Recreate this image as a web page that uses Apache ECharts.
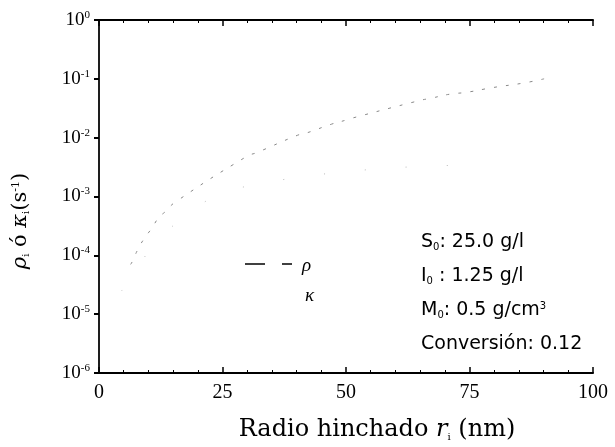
<!DOCTYPE html>
<html><head><meta charset="utf-8">
<script src="https://cdn.jsdelivr.net/npm/echarts@6/dist/echarts.min.js"></script>
<style>html,body{margin:0;padding:0;background:#fff}#c{width:615px;height:447px}</style>
</head><body><div id="c"></div>
<script>
const xTicks = [0, 25, 50, 75, 100];
const rhoX = [6.4, 6.9, 7.8, 9.1, 10.7, 12.1, 13.4, 15.5, 29.9, 32.0, 40.2, 42.0, 47.1, 50.1, 50.8, 65.0, 67.3, 71.1, 74.4, 79.7, 86.0, 90.1];
const rhoY = [7.0e-5, 8.3e-5, 1.23e-4, 1.9e-4, 2.9e-4, 4.4e-4, 5.5e-4, 8.1e-4, 4.8e-3, 5.6e-3, 1.1e-2, 1.2e-2, 1.7e-2, 2.0e-2, 2.1e-2, 4.3e-2, 4.7e-2, 5.5e-2, 5.9e-2, 7.1e-2, 8.5e-2, 1.0e-1];
const kappaX = [4.6, 28.4, 74.0];
const kappaY = [2.5e-5, 1.4e-3, 3.4e-3];
const notes = [
  ['S', '0', ': 25.0 g/l', ''],
  ['I', '0', ' : 1.25 g/l', ''],
  ['M', '0', ': 0.5 g/cm', '3'],
  ['Conversión: 0.12', '', '', '']
];

const serif = 'Liberation Serif';
const sans = 'DejaVu Sans';
const chart = echarts.init(document.getElementById('c'));

const supRich = {
  b: {fontFamily: serif, fontSize: 19, color: '#000'},
  s: {fontFamily: serif, fontSize: 11, color: '#000', verticalAlign: 'top', padding: [0, 0, 10, 0]}
};

const noteGraphics = notes.map((n, i) => ({
  type: 'text',
  left: 421,
  top: 233 + i * 34,
  style: {
    text: n[1] || n[3] ? '{m|' + n[0] + '}{sub|' + n[1] + '}{m|' + n[2] + '}{sup|' + n[3] + '}' : '{m|' + n[0] + '}',
    rich: {
      m: {fontFamily: sans, fontSize: 19, fill: '#000'},
      sub: {fontFamily: sans, fontSize: 10, fill: '#000', verticalAlign: 'bottom', padding: [8, 0, 0, 0]},
      sup: {fontFamily: sans, fontSize: 10, fill: '#000', verticalAlign: 'top', padding: [0, 0, 9, 0]}
    }
  }
}));

chart.setOption({
  animation: false,
  grid: {left: 99, right: 22, top: 20, bottom: 74, show: false},
  xAxis: [{
    type: 'value', min: 0, max: 100, interval: 25,
    axisLine: {lineStyle: {color: '#000', width: 2}},
    axisTick: {inside: true, length: 6, lineStyle: {color: '#000', width: 1.5}},
    minorTick: {show: true, splitNumber: 5, length: 3, lineStyle: {color: '#000'}},
    splitLine: {show: false},
    axisLabel: {fontFamily: serif, fontSize: 20, color: '#000', margin: 10,
      formatter: v => xTicks.includes(v) ? String(v) : ''}
  }, {
    type: 'value', min: 0, max: 100, interval: 25, position: 'top',
    axisLine: {lineStyle: {color: '#000', width: 2}},
    axisTick: {inside: true, length: 6, lineStyle: {color: '#000', width: 1.5}},
    minorTick: {show: true, splitNumber: 5, length: 3, lineStyle: {color: '#000'}},
    splitLine: {show: false}, axisLabel: {show: false}
  }],
  yAxis: [{
    type: 'log', logBase: 10, min: 1e-6, max: 1,
    axisLine: {lineStyle: {color: '#777', width: 2}},
    axisTick: {inside: false, length: 4, lineStyle: {color: '#000', width: 2}},
    splitLine: {show: false},
    axisLabel: {margin: 9, rich: supRich,
      formatter: v => '{b|10}{s|' + Math.round(Math.log10(v)) + '}'}
  }, {
    type: 'log', logBase: 10, min: 1e-6, max: 1, position: 'right',
    axisLine: {lineStyle: {color: '#000', width: 1.5}},
    axisTick: {inside: true, length: 5, lineStyle: {color: '#000', width: 2}},
    splitLine: {show: false}, axisLabel: {show: false}
  }],
  series: [{
    name: 'ρ', type: 'line', xAxisIndex: 0, yAxisIndex: 0,
    data: rhoX.map((x, i) => [x, rhoY[i]]),
    smooth: true, showSymbol: false,
    lineStyle: {color: '#888', width: 1, type: [3, 9]}
  }, {
    name: 'κ', type: 'line', xAxisIndex: 0, yAxisIndex: 0,
    data: kappaX.map((x, i) => [x, kappaY[i]]),
    smooth: true, showSymbol: false,
    lineStyle: {color: '#bbb', width: 1, type: [1, 40]}
  }],
  graphic: [
    {type: 'line', shape: {x1: 245, y1: 264, x2: 265, y2: 264}, style: {stroke: '#000', lineWidth: 1.5}},
    {type: 'line', shape: {x1: 282, y1: 264, x2: 292, y2: 264}, style: {stroke: '#000', lineWidth: 1.5}},
    {type: 'text', left: 302, top: 256, style: {text: 'ρ', font: 'italic 19px "Liberation Serif"', fill: '#000'}},
    {type: 'text', left: 305, top: 286, style: {text: 'κ', font: 'italic 19px "Liberation Serif"', fill: '#000'}},
    {type: 'text', x: 377, y: 430, style: {
      text: '{t|Radio hinchado }{it|r}{sub|i}{t| (nm)}',
      align: 'center', verticalAlign: 'middle',
      rich: {
        t: {fontFamily: 'DejaVu Serif', fontSize: 24, fill: '#000'},
        it: {fontFamily: 'DejaVu Serif', fontSize: 24, fontStyle: 'italic', fill: '#000'},
        sub: {fontFamily: 'DejaVu Serif', fontSize: 10, fill: '#000', verticalAlign: 'bottom', padding: [11, 0, 0, 0]}
      }
    }},
    {type: 'text', x: 21, y: 221, rotation: Math.PI / 2, style: {
      text: '{g|ρ}{sub|i}{t| ó }{g|κ}{sub|i}{t|(s}{sup|-1}{t|)}',
      align: 'center', verticalAlign: 'middle',
      rich: {
        t: {fontFamily: 'DejaVu Serif', fontSize: 21, fill: '#000'},
        g: {fontFamily: 'DejaVu Serif', fontSize: 21, fontStyle: 'italic', fill: '#000'},
        sub: {fontFamily: 'DejaVu Serif', fontSize: 10, fill: '#000', verticalAlign: 'bottom', padding: [10, 0, 0, 0]},
        sup: {fontFamily: 'DejaVu Serif', fontSize: 11, fill: '#000', verticalAlign: 'top', padding: [0, 0, 10, 0]}
      }
    }}
  ].concat(noteGraphics)
});
</script>
</body></html>
